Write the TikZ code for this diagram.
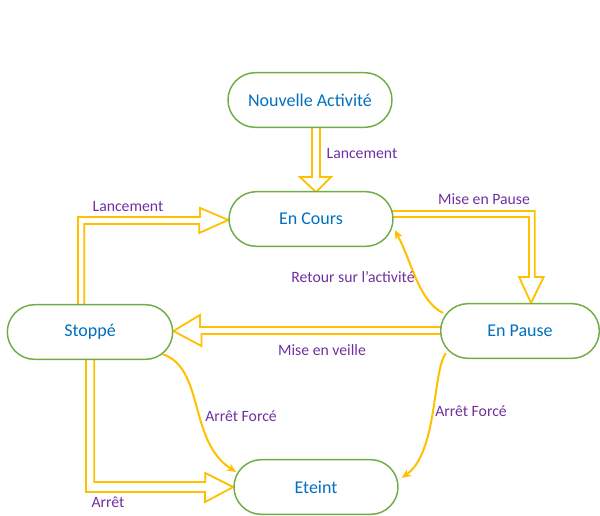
\documentclass[tikz,border=0pt]{standalone}
\usepackage{fontspec}
\setmainfont{Carlito}
\usetikzlibrary{calc,arrows.meta,backgrounds}
\definecolor{stategreen}{HTML}{70AD47}
\definecolor{stateblue}{HTML}{0070C0}
\definecolor{labelpurple}{HTML}{7030A0}
\definecolor{flowyellow}{HTML}{FFC000}
\tikzset{
  state/.style={draw=stategreen, line width=1.1pt, fill=white, rounded corners=20.5pt,
    minimum height=41pt, minimum width=123pt, text=stateblue,
    font=\fontsize{13.5}{16}\selectfont},
  lbl/.style={text=labelpurple, font=\fontsize{11.8}{14}\selectfont, inner sep=0pt},
  blockarrow/.style={draw=flowyellow, line width=1.35pt, line join=miter, fill=white},
  thinarrow/.style={draw=flowyellow, line width=1.5pt,
    -{Stealth[length=7pt,width=6pt]}},
}
\begin{document}
\begin{tikzpicture}[x=0.75pt,y=-0.75pt]
\useasboundingbox (0,0) rectangle (600,515);

% states
\node[state] (new)    at (310,100) {Nouvelle Activité};
\node[state] (cours)  at (311,219) {En Cours};
\node[state, minimum width=124pt] (stop) at (90,332) {Stoppé};
\node[state, minimum width=119pt] (pause) at (520,331) {En Pause};
\node[state] (eteint) at (316,487) {Eteint};

% hollow block arrows, tucked behind the states
\begin{pgfonlayer}{background}
  % Nouvelle Activité -> En Cours
  \draw[blockarrow] ($(new.south)+(2,-4)$) -- ++(0,53) -- ++(-12,0) -- ++(16,15)
    -- ++(15,-15) -- ++(-11,0) -- ++(0,-53);
  % Stoppé -> En Cours
  \draw[blockarrow] ($(stop.north)+(-12,4)$) -- ++(0,-91) -- ++(122,0) -- ++(0,-9)
    -- ($(cours.west)+(0,1)$) -- ++(-29,13) -- ++(0,-9) -- ++(-115,0) -- ++(0,84);
  % En Cours -> En Pause
  \draw[blockarrow] ($(cours.east)+(-6,-8)$) -- ++(147,0) -- ++(0,66) -- ++(9,0)
    -- ($(pause.north)+(11,0)$) -- ++(-12,-26) -- ++(10,0) -- ++(0,-60) -- ++(-141,0);
  % En Pause -> Stoppé
  \draw[blockarrow] ($(pause.west)+(6,-4)$) -- ++(-246,0) -- ++(0,-12)
    -- ($(stop.east)+(0,-1)$) -- ++(28,15) -- ++(0,-12) -- ++(246,0);
  % Stoppé -> Eteint
  \draw[blockarrow] ($(stop.south)+(-4,-4)$) -- ++(0,136) -- ++(119,0) -- ++(0,10)
    -- (eteint.west) -- ++(-28,-14) -- ++(0,9) -- ++(-111,0) -- ++(0,-126);
\end{pgfonlayer}

% curved transitions
\draw[thinarrow] ($(pause.west)+(3,-18)$) .. controls (418,300) and (412,262) .. ($(cours.east)+(1,11)$);
\draw[thinarrow] ($(pause.south west)+(6,-6)$) .. controls (432,372) and (438,452) .. ($(eteint.east)+(3,-9)$);
\draw[thinarrow] ($(stop.south east)+(-11,-6)$) .. controls (205,368) and (188,442) .. ($(eteint.west)+(3,-15)$);

% transition labels
\node[lbl] (l1) at (362,154) {Lancement};
\node[lbl] (l2) at (128,207) {Lancement};
\node[lbl] (l3) at (484,199) {Mise en Pause};
\node[lbl] (l4) at (353,277) {Retour sur l’activité};
\node[lbl] (l5) at (322,350) {Mise en veille};
\node[lbl] (l6) at (241,416) {Arrêt Forcé};
\node[lbl] (l7) at (471,411) {Arrêt Forcé};
\node[lbl] (l8) at (108,502) {Arrêt};
\end{tikzpicture}
\end{document}
